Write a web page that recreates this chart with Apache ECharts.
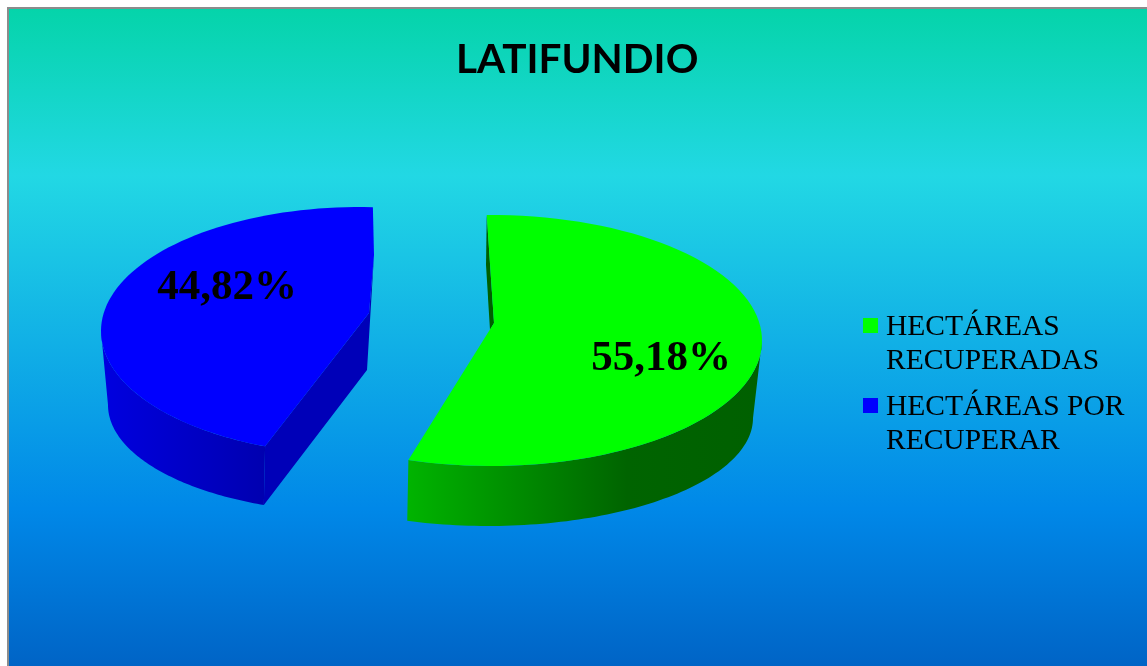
<!DOCTYPE html>
<html>
<head>
<meta charset="utf-8">
<style>html,body{margin:0;padding:0;background:#fff}#c{width:1147px;height:666px}</style>
<script src="https://cdn.jsdelivr.net/npm/echarts@6/dist/echarts.min.js"></script>
</head>
<body>
<div id="c"></div>
<script>
const categories = ['HECTÁREAS RECUPERADAS', 'HECTÁREAS POR RECUPERAR'];
const legendLines = ['HECTÁREAS\nRECUPERADAS', 'HECTÁREAS POR\nRECUPERAR'];
const shares = [55.18, 44.82];
const title = 'LATIFUNDIO';

// look of each exploded slice: top rim ellipse, bottom rim ellipse, apex etc (3d is faked, no gl here)
const looks = [
  { color:'#00ff00', from:-90.9, top:[491,340.5,271,125.5], bot:[488,418,265,108], apex:[494,323], apexLow:[490,330], bend:[486,265],
    wall:[[0,'#00b400'],[0.62,'#006400'],[1,'#006000']], cut:'#006000', label:[661,359] },
  { color:'#0000ff', from:111.5, top:[360,331,259,124], bot:[354,405,246,107.5], apex:[369,313], apexLow:[367,370], bend:[374,255],
    wall:[[0,'#0000e0'],[1,'#0000b0']], cut:'#0000b8', label:[227,288] }
];

function rim(e, deg){
  const a = deg*Math.PI/180;
  return [e[0]+e[2]*Math.cos(a), e[1]+e[3]*Math.sin(a)];
}
function arc(e, a0, a1){
  const out = [], n = 80;
  for(let i=0;i<=n;i++) out.push(rim(e, a0+(a1-a0)*i/n));
  return out;
}
function grad(stops){
  return new echarts.graphic.LinearGradient(0,0,1,0, stops.map(s=>({offset:s[0],color:s[1]})));
}

function slice(i){
  return function(params, api){
    const v = api.value(0), lk = looks[i];
    const sweep = v/100*360, a0 = lk.from, a1 = a0+sweep;
    const kids = [];
    if(i===0){
      // outer wall seen from right extreme round to the cut, thin inner wall at the top
      kids.push({type:'polygon',shape:{points:arc(lk.top,0,a1).concat(arc(lk.bot,a1,0))},style:{fill:grad(lk.wall)}});
      kids.push({type:'polygon',shape:{points:[rim(lk.top,a0),lk.bend,lk.apexLow,lk.apex]},style:{fill:lk.cut}});
      kids.push({type:'polygon',shape:{points:[lk.apex].concat(arc(lk.top,a0,a1))},style:{fill:lk.color}});
    }else{
      kids.push({type:'polygon',shape:{points:arc(lk.top,a0,180).concat(arc(lk.bot,180,a0))},style:{fill:grad(lk.wall)}});
      kids.push({type:'polygon',shape:{points:[rim(lk.top,a0),lk.apex,lk.bend,lk.apexLow,rim(lk.bot,a0)]},style:{fill:lk.cut}});
      kids.push({type:'polygon',shape:{points:[lk.apex,lk.bend].concat(arc(lk.top,a1,a0))},style:{fill:lk.color}});
    }
    kids.push({type:'text',x:lk.label[0],y:lk.label[1],style:{text:v.toFixed(2).replace('.',',')+'%',fill:'#000',
      font:'bold 43px "Liberation Serif"',align:'center',verticalAlign:'middle'}});
    return {type:'group',children:kids};
  };
}

const chart = echarts.init(document.getElementById('c'));
const W = 1147, H = 666;
chart.setOption({
  animation:false,
  backgroundColor:'#fff',
  graphic:[
    {type:'rect',z:-20,shape:{x:7,y:7,width:W,height:H},style:{fill:'#8c8c8c'}},
    {type:'rect',z:-10,shape:{x:9,y:9,width:W,height:H},style:{fill:new echarts.graphic.LinearGradient(0,0,0,1,[
      {offset:0,color:'#05d4aa'},{offset:0.25,color:'#22d8e4'},{offset:0.75,color:'#0088e8'},{offset:1,color:'#0062c4'}])}}
  ],
  title:{text:title,left:451,top:34,textStyle:{fontFamily:'Lato',fontWeight:'bold',fontSize:40.5,color:'#000'}},
  legend:{
    orient:'vertical',left:858,top:305,itemWidth:15,itemHeight:68,itemGap:12,
    icon:'path://M0 0L0 0ZM0 8H15V23H0ZM0 68L0 68Z',
    data:categories,
    formatter:n=>legendLines[categories.indexOf(n)],
    textStyle:{fontFamily:'Liberation Serif',fontSize:29.5,lineHeight:34,color:'#000',padding:[0,0,0,3]}
  },
  series:categories.map((name,i)=>({
    type:'custom',name,coordinateSystem:'none',data:[[shares[i]]],
    itemStyle:{color:looks[i].color},renderItem:slice(i)
  }))
});
</script>
</body>
</html>
